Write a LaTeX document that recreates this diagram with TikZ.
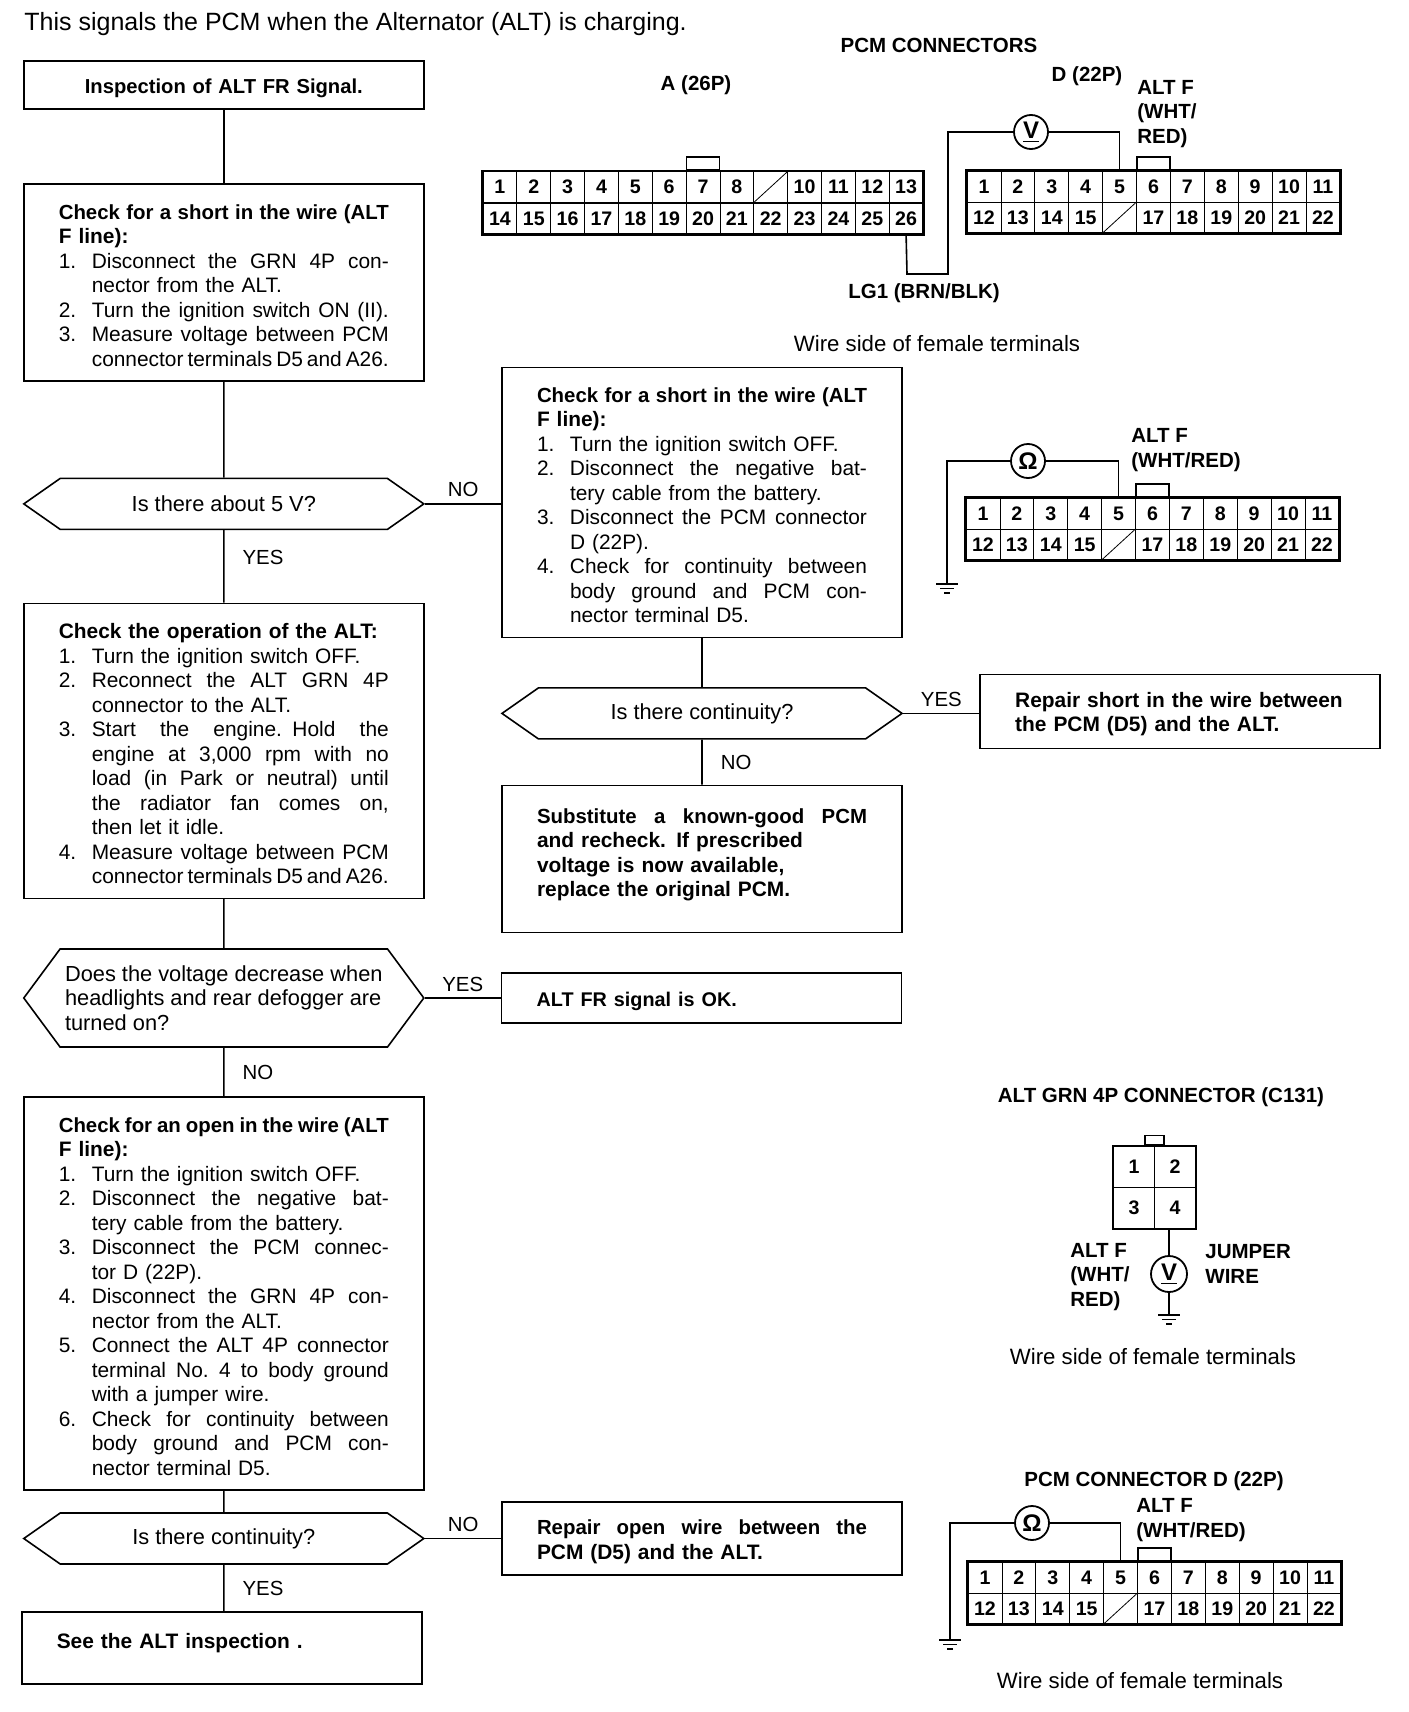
\documentclass[tikz,border=0pt]{standalone}
\usepackage{fontspec}
\setmainfont{Liberation Sans}
\usetikzlibrary{positioning,calc,fit,shapes.symbols}
\newcommand{\itm}[1]{\makebox[16.5pt][l]{#1}}
\newcommand{\jl}[1]{\leavevmode\hbox to 148.5pt{\spaceskip=.28em plus 2em minus .17em\relax #1}}
\newcommand{\hd}[1]{\leavevmode\hbox to 165pt{\fontsize{10.2}{12.25}\bfseries\selectfont\spaceskip=.28em plus 2em minus .17em\relax #1}}
\newcommand{\gnd}[1]{\draw[ln] (#1)+(-11,0) -- +(11,0) +(-7,4.5) -- +(7,4.5) +(-3,9) -- +(3,9);}
% 22P connector: prefix, left edge, top edge
\newcommand{\conD}[3]{%
  \foreach \n [count=\i from 0] in {1,...,11} \node[cell] (#1\n) at ({#2+16.95+\i*33.9},{#3+15.5}) {\n};
  \foreach \n [count=\i from 0] in {12,...,22} \node[cell] (#1\n) at ({#2+16.95+\i*33.9},{#3+46.5}) {\ifnum\n=16 \else\n\fi};
  \draw (#116.south west) -- (#116.north east);
  \node[outer,fit=(#11)(#122)] (#1box) {};
  \node[tab,above=0pt of #16] (#1tab) {};
}
\tikzset{
  x=.5pt,y=-.5pt,
  ln/.style={line width=.8pt},
  txt/.style={font=\fontsize{10.45}{12.25}\selectfont},
  bx/.style={draw,line width=.8pt,txt,minimum width=200pt,align=left,inner xsep=17.5pt,inner ysep=0pt,text width=165pt,execute at begin node={\rule{0pt}{10.4pt}}},
  dec/.style={draw,line width=.8pt,font=\fontsize{10.9}{12.25}\selectfont,signal,signal to=west and east,signal pointer angle=#1,minimum width=200pt,inner sep=0pt,align=left},
  lab/.style={font=\fontsize{10.25}{12.25}\bfseries\selectfont,align=left,inner sep=0pt},
  wir/.style={font=\fontsize{11.1}{12.25}\selectfont,inner sep=0pt},
  ans/.style={font=\fontsize{10.2}{12.25}\selectfont,inner sep=1pt},
  cell/.style={draw,line width=.4pt,minimum width=16.95pt,minimum height=15.5pt,inner sep=0pt,font=\fontsize{9.8}{10}\bfseries\selectfont},
  outer/.style={draw,line width=1.4pt,inner sep=0pt},
  tab/.style={draw,line width=.9pt,minimum width=16.5pt,minimum height=6.5pt,inner sep=0pt},
  meter/.style={draw,circle,line width=.9pt,minimum size=17pt,inner sep=0pt,font=\fontsize{12}{12}\bfseries\selectfont},
  node distance=36.7pt
}
\begin{document}
\begin{tikzpicture}
\useasboundingbox (0,0) rectangle (1408,1712);
\node[anchor=west,inner sep=0pt,font=\fontsize{12.5}{13}\selectfont] (title) at (24,24) {This signals the PCM when the Alternator (ALT) is charging.};
% left column
\node[bx,anchor=north west,minimum height=24pt,align=center,font=\fontsize{10.1}{12.25}\selectfont] (insp) at (23,60) {\textbf{Inspection of ALT FR Signal.}};
\node[bx,below=of insp,minimum height=98.5pt] (chkA) {\hd{Check for a short in the wire (ALT}\\\textbf{F line):}\\
\itm{1.}\jl{Disconnect the GRN 4P con-}\\\itm{}nector from the ALT.\\\itm{2.}\jl{Turn the ignition switch ON (II).}\\\itm{3.}\jl{Measure voltage between PCM}\\\itm{}\jl{connector terminals D5 and A26.}};
\node[dec=70,below=48pt of chkA,minimum height=25.5pt,align=center] (decA) {Is there about 5 V?};
\node[bx,below=36.2pt of decA,minimum height=147.5pt] (oper) {\textbf{Check the operation of the ALT:}\\
\itm{1.}Turn the ignition switch OFF.\\\itm{2.}\jl{Reconnect the ALT GRN 4P}\\\itm{}connector to the ALT.\\\itm{3.}\jl{Start the engine. Hold the}\\\itm{}\jl{engine at 3,000 rpm with no}\\\itm{}\jl{load (in Park or neutral) until}\\\itm{}\jl{the radiator fan comes on,}\\\itm{}then let it idle.\\\itm{4.}\jl{Measure voltage between PCM}\\\itm{}\jl{connector terminals D5 and A26.}};
\node[dec=107,below=24.5pt of oper,minimum height=49pt] (decB) {Does the voltage decrease when\hspace{7.6pt}\\headlights and rear defogger are\\turned on?};
\node[bx,below=24.2pt of decB,minimum height=196.5pt] (open) {\hd{Check for an open in the wire (ALT}\\\textbf{F line):}\\
\itm{1.}Turn the ignition switch OFF.\\\itm{2.}\jl{Disconnect the negative bat-}\\\itm{}tery cable from the battery.\\\itm{3.}\jl{Disconnect the PCM connec-}\\\itm{}tor D (22P).\\\itm{4.}\jl{Disconnect the GRN 4P con-}\\\itm{}nector from the ALT.\\\itm{5.}\jl{Connect the ALT 4P connector}\\\itm{}\jl{terminal No. 4 to body ground}\\\itm{}with a jumper wire.\\\itm{6.}\jl{Check for continuity between}\\\itm{}\jl{body ground and PCM con-}\\\itm{}nector terminal D5.};
\node[dec=70,below=10.7pt of open,minimum height=25.5pt,align=center] (decC) {Is there continuity?};
\node[bx,below=23.2pt of decC,minimum height=36pt,xshift=-1pt] (seeA) {\textbf{See the ALT inspection .}\\[-2pt]\mbox{}};
% right column
\node[bx,right=38pt of decA,minimum height=135pt,yshift=.8pt] (chkB) {\hd{Check for a short in the wire (ALT}\\\textbf{F line):}\\
\itm{1.}Turn the ignition switch OFF.\\\itm{2.}\jl{Disconnect the negative bat-}\\\itm{}tery cable from the battery.\\\itm{3.}\jl{Disconnect the PCM connector}\\\itm{}D (22P).\\\itm{4.}\jl{Check for continuity between}\\\itm{}\jl{body ground and PCM con-}\\\itm{}nector terminal D5.};
\node[dec=70,below=24.5pt of chkB,minimum height=25.5pt,align=center] (decD) {Is there continuity?};
\node[bx,right=38pt of decD,minimum height=37pt,yshift=1pt] (shrt) {\textbf{Repair short in the wire between}\\\textbf{the PCM (D5) and the ALT.}};
\node[bx,below=22.5pt of decD,minimum height=73.5pt] (subs) {\hd{Substitute a known-good PCM}\\\textbf{and recheck. If prescribed}\\\textbf{voltage is now available,}\\\textbf{replace the original PCM.}\\[-3pt]\mbox{}};
\node[bx,right=38pt of decB,minimum height=25pt] (okay) {\fontsize{9.9}{12.25}\selectfont\textbf{ALT FR signal is OK.}};
\node[bx,right=38pt of decC,minimum height=36.5pt] (rpop) {\hd{Repair open wire between the}\\\textbf{PCM (D5) and the ALT.}};
% connectors
\draw[ln] (insp) -- (chkA);
\draw[ln] (chkA) -- (decA);
\draw[ln] (decA) -- node[ans,pos=.38,right=8pt] (yesA) {YES} (oper);
\draw[ln] (oper) -- (decB);
\draw[ln] (decB) -- node[ans,right=8pt] (noB) {NO} (open);
\draw[ln] (open) -- (decC);
\draw[ln] (decC) -- node[ans,right=8pt] (yesC) {YES} (seeA.north -| decC);
\draw[ln] (decA.east) -- node[ans,above=2pt] (noA) {NO} (chkB.west |- decA.east);
\draw[ln] (decB.east) -- node[ans,above=2pt] (yesB) {YES} (okay.west |- decB.east);
\draw[ln] (decC.east) -- node[ans,above=2pt] (noC) {NO} (rpop.west |- decC.east);
\draw[ln] (chkB) -- (decD);
\draw[ln] (decD) -- node[ans,right=8pt] (noD) {NO} (subs);
\draw[ln] (decD.east) -- node[ans,above=2pt] (yesD) {YES} (shrt.west |- decD.east);
% top connectors
\node[lab] (pcmT) at (939,45) {PCM CONNECTORS};
\node[lab] (aT) at (696,85) {A (26P)};
\node[lab] (dT) at (1087,76) {D (22P)};
\node[lab,anchor=west] (altA) at (1137,114) {ALT F\\(WHT/\\RED)};
\foreach \n [count=\i from 0] in {1,...,13} \node[cell] (a\n) at ({483+16.9+\i*33.85},187) {\ifnum\n=9 \else\n\fi};
\foreach \n [count=\i from 0] in {14,...,26} \node[cell] (a\n) at ({483+16.9+\i*33.85},219) {\n};
\draw (a9.south west) -- (a9.north east);
\node[outer,fit=(a1)(a26)] (abox) {};
\node[tab,above=0pt of a7] (atab) {};
\conD{d}{967}{171}
\node[meter] (vm) at (1031,132) {\underline{V}};
\coordinate (w1) at (948,132);
\coordinate (w2) at (948,274);
\coordinate (w3) at (907,274);
\draw[ln] (vm) -- (w1) -- (w2) -- (w3) -- (a26.south);
\draw[ln] (vm) -| (d5.north);
\node[lab] (lgT) at (924,293) {LG1 (BRN/BLK)};
\node[wir] (wsA) at (937,344) {Wire side of female terminals};
% continuity at D
\node[lab,anchor=west] (altB) at (1131,450) {ALT F\\(WHT/RED)};
\conD{e}{966}{498}
\node[meter] (om) at (1028,461) {Ω};
\coordinate (g1) at (947,461);
\coordinate (g2) at (947,584);
\draw[ln] (om) -- (g1) -- (g2);
\draw[ln] (om) -| (e5.north);
\gnd{g2}
% 4P connector
\node[lab] (altT) at (1161,1097) {ALT GRN 4P CONNECTOR (C131)};
\foreach \n/\cx/\cy in {1/1134/1167,2/1175/1167,3/1134/1208,4/1175/1208}
  \node[cell,minimum width=20.75pt,minimum height=20.25pt] (p\n) at (\cx,\cy) {\n};
\node[outer,line width=.9pt,fit=(p1)(p4)] (pbox) {};
\node[tab,above=0pt of pbox,minimum width=9.5pt,minimum height=4.5pt,line width=.7pt] (ptab) {};
\node[meter,minimum size=18pt] (vn) at (1169,1274) {\underline{V}};
\coordinate (g3) at (1169,1315);
\draw[ln] (vn) -- (vn |- pbox.south);
\draw[ln] (vn) -- (g3);
\gnd{g3}
\node[lab,anchor=west] (altC) at (1070,1277) {ALT F\\(WHT/\\RED)};
\node[lab,anchor=west] (jmp) at (1205,1264) {JUMPER\\WIRE};
\node[wir] (wsB) at (1153,1357) {Wire side of female terminals};
% bottom D
\node[lab] (pcmD) at (1154,1481) {PCM CONNECTOR D (22P)};
\node[lab,anchor=west] (altD) at (1136,1520) {ALT F\\(WHT/RED)};
\conD{f}{968}{1562}
\node[meter] (on) at (1032,1523) {Ω};
\coordinate (g4) at (950,1523);
\coordinate (g5) at (950,1640);
\draw[ln] (on) -- (g4) -- (g5);
\draw[ln] (on) -| (f5.north);
\gnd{g5}
\node[wir] (wsC) at (1140,1681) {Wire side of female terminals};
\end{tikzpicture}
\end{document}
